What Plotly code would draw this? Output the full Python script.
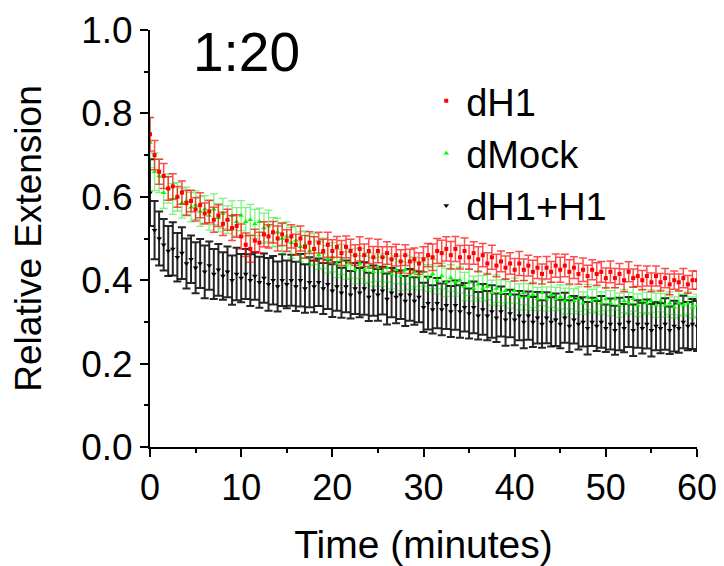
import plotly.graph_objects as go

# Sampling times (minutes), one point every 0.5 min from 0 to 60
TIME_MIN = [i * 0.5 for i in range(121)]

# dH1 (red) mean relative extension, rows of 5 minutes
DH1 = [
    0.75, 0.70, 0.66, 0.65, 0.62, 0.625, 0.60, 0.61, 0.585, 0.59,
    0.57, 0.58, 0.56, 0.565, 0.545, 0.555, 0.535, 0.545, 0.525, 0.53,
    0.505, 0.485, 0.475, 0.495, 0.49, 0.51, 0.505, 0.515, 0.50, 0.51,
    0.495, 0.505, 0.485, 0.50, 0.48, 0.49, 0.475, 0.49, 0.47, 0.485,
    0.47, 0.48, 0.465, 0.48, 0.47, 0.46, 0.475, 0.46, 0.47, 0.455,
    0.47, 0.455, 0.465, 0.45, 0.46, 0.445, 0.46, 0.445, 0.45, 0.44,
    0.45, 0.46, 0.455, 0.47, 0.465, 0.475, 0.46, 0.475, 0.455, 0.47,
    0.455, 0.465, 0.45, 0.46, 0.44, 0.455, 0.435, 0.445, 0.43, 0.44,
    0.425, 0.44, 0.425, 0.435, 0.42, 0.43, 0.415, 0.43, 0.42, 0.435,
    0.425, 0.435, 0.42, 0.43, 0.415, 0.425, 0.41, 0.425, 0.415, 0.42,
    0.405, 0.42, 0.405, 0.415, 0.40, 0.42, 0.405, 0.41, 0.40, 0.41,
    0.395, 0.41, 0.395, 0.405, 0.39, 0.40, 0.395, 0.405, 0.39, 0.40,
    0.40,
]
DH1_ERR = [
    0.040, 0.035, 0.030, 0.030, 0.028, 0.030, 0.025, 0.028, 0.030, 0.026,
    0.028, 0.030, 0.025, 0.027, 0.030, 0.026, 0.028, 0.025, 0.030, 0.027,
    0.030, 0.028, 0.032, 0.027, 0.025, 0.030, 0.028, 0.026, 0.030, 0.027,
    0.026, 0.028, 0.025, 0.030, 0.027, 0.026, 0.029, 0.025, 0.028, 0.030,
    0.027, 0.025, 0.030, 0.026, 0.028, 0.025, 0.029, 0.027, 0.030, 0.026,
    0.028, 0.025, 0.027, 0.030, 0.026, 0.028, 0.025, 0.029, 0.027, 0.026,
    0.030, 0.028, 0.032, 0.030, 0.031, 0.029, 0.033, 0.030, 0.028, 0.031,
    0.029, 0.027, 0.030, 0.028, 0.026, 0.029, 0.027, 0.025, 0.028, 0.026,
    0.027, 0.029, 0.026, 0.025, 0.028, 0.026, 0.024, 0.027, 0.025, 0.028,
    0.030, 0.027, 0.029, 0.026, 0.025, 0.028, 0.026, 0.024, 0.027, 0.025,
    0.024, 0.026, 0.023, 0.025, 0.027, 0.024, 0.022, 0.025, 0.023, 0.024,
    0.022, 0.024, 0.021, 0.023, 0.025, 0.022, 0.020, 0.023, 0.021, 0.022,
    0.022,
]

# dMock (green)
DMOCK = [
    0.73, 0.66, 0.65, 0.61, 0.62, 0.595, 0.60, 0.585, 0.59, 0.575,
    0.58, 0.565, 0.57, 0.555, 0.57, 0.55, 0.56, 0.545, 0.555, 0.54,
    0.555, 0.54, 0.545, 0.535, 0.54, 0.525, 0.53, 0.515, 0.515, 0.50,
    0.505, 0.49, 0.495, 0.48, 0.485, 0.47, 0.475, 0.46, 0.465, 0.45,
    0.455, 0.44, 0.45, 0.435, 0.44, 0.425, 0.44, 0.425, 0.43, 0.42,
    0.43, 0.42, 0.43, 0.415, 0.425, 0.41, 0.425, 0.41, 0.42, 0.41,
    0.42, 0.405, 0.415, 0.40, 0.41, 0.395, 0.405, 0.395, 0.40, 0.385,
    0.395, 0.38, 0.39, 0.38, 0.385, 0.37, 0.38, 0.37, 0.375, 0.365,
    0.375, 0.36, 0.37, 0.36, 0.365, 0.355, 0.37, 0.355, 0.365, 0.355,
    0.36, 0.35, 0.36, 0.35, 0.355, 0.345, 0.36, 0.35, 0.355, 0.345,
    0.355, 0.345, 0.355, 0.34, 0.35, 0.345, 0.355, 0.34, 0.35, 0.345,
    0.35, 0.34, 0.35, 0.34, 0.345, 0.335, 0.345, 0.34, 0.345, 0.335,
    0.34,
]
DMOCK_ERR = [
    0.060, 0.045, 0.040, 0.038, 0.035, 0.037, 0.034, 0.036, 0.033, 0.035,
    0.034, 0.036, 0.033, 0.035, 0.037, 0.034, 0.036, 0.033, 0.035, 0.034,
    0.036, 0.034, 0.037, 0.035, 0.033, 0.036, 0.038, 0.035, 0.034, 0.036,
    0.035, 0.037, 0.034, 0.036, 0.033, 0.035, 0.037, 0.034, 0.036, 0.033,
    0.035, 0.034, 0.036, 0.033, 0.035, 0.034, 0.036, 0.033, 0.035, 0.034,
    0.033, 0.035, 0.034, 0.036, 0.033, 0.035, 0.034, 0.032, 0.035, 0.033,
    0.034, 0.032, 0.035, 0.033, 0.031, 0.034, 0.032, 0.033, 0.031, 0.034,
    0.032, 0.030, 0.033, 0.031, 0.032, 0.030, 0.033, 0.031, 0.029, 0.032,
    0.030, 0.031, 0.029, 0.032, 0.030, 0.028, 0.031, 0.029, 0.030, 0.028,
    0.029, 0.031, 0.028, 0.030, 0.029, 0.027, 0.030, 0.028, 0.029, 0.027,
    0.028, 0.030, 0.027, 0.029, 0.028, 0.026, 0.029, 0.027, 0.028, 0.026,
    0.027, 0.029, 0.026, 0.028, 0.027, 0.025, 0.028, 0.026, 0.027, 0.025,
    0.026,
]

# dH1+H1 (black)
DH1_H1 = [
    0.61, 0.52, 0.50, 0.485, 0.47, 0.475, 0.455, 0.465, 0.44, 0.45,
    0.43, 0.44, 0.42, 0.435, 0.415, 0.425, 0.41, 0.42, 0.40, 0.415,
    0.405, 0.415, 0.40, 0.41, 0.395, 0.405, 0.39, 0.40, 0.385, 0.40,
    0.39, 0.40, 0.385, 0.40, 0.38, 0.395, 0.385, 0.395, 0.38, 0.39,
    0.375, 0.385, 0.37, 0.385, 0.365, 0.38, 0.37, 0.38, 0.36, 0.375,
    0.365, 0.375, 0.355, 0.37, 0.36, 0.365, 0.35, 0.365, 0.35, 0.36,
    0.335, 0.345, 0.33, 0.345, 0.33, 0.34, 0.325, 0.34, 0.325, 0.335,
    0.32, 0.335, 0.315, 0.33, 0.315, 0.325, 0.31, 0.325, 0.305, 0.32,
    0.305, 0.315, 0.30, 0.315, 0.30, 0.31, 0.295, 0.31, 0.30, 0.305,
    0.295, 0.31, 0.29, 0.305, 0.295, 0.30, 0.285, 0.30, 0.29, 0.30,
    0.285, 0.295, 0.28, 0.295, 0.285, 0.30, 0.28, 0.295, 0.285, 0.295,
    0.28, 0.29, 0.285, 0.295, 0.28, 0.29, 0.285, 0.30, 0.29, 0.295,
    0.29,
]
DH1_H1_ERR = [
    0.080, 0.070, 0.065, 0.062, 0.060, 0.064, 0.058, 0.062, 0.060, 0.057,
    0.061, 0.059, 0.063, 0.058, 0.060, 0.062, 0.057, 0.061, 0.059, 0.063,
    0.058, 0.060, 0.062, 0.057, 0.061, 0.059, 0.063, 0.058, 0.060, 0.062,
    0.057, 0.061, 0.059, 0.063, 0.058, 0.060, 0.062, 0.057, 0.061, 0.059,
    0.063, 0.058, 0.060, 0.062, 0.057, 0.061, 0.059, 0.063, 0.058, 0.060,
    0.062, 0.057, 0.061, 0.059, 0.063, 0.058, 0.060, 0.062, 0.057, 0.061,
    0.059, 0.063, 0.058, 0.060, 0.062, 0.057, 0.061, 0.059, 0.063, 0.058,
    0.060, 0.062, 0.057, 0.061, 0.059, 0.063, 0.058, 0.060, 0.062, 0.057,
    0.061, 0.059, 0.063, 0.058, 0.060, 0.062, 0.057, 0.061, 0.059, 0.063,
    0.058, 0.060, 0.062, 0.057, 0.061, 0.059, 0.063, 0.058, 0.060, 0.062,
    0.057, 0.061, 0.059, 0.063, 0.058, 0.060, 0.062, 0.057, 0.061, 0.059,
    0.063, 0.058, 0.060, 0.062, 0.057, 0.061, 0.059, 0.063, 0.058, 0.060,
    0.060,
]

SERIES_NAMES = ["dH1", "dMock", "dH1+H1"]
TITLE_TEXT = "1:20"
X_TITLE = "Time (minutes)"
Y_TITLE = "Relative Extension"

FONT = "Arial, Liberation Sans, Helvetica, sans-serif"

fig = go.Figure()

# drawn bottom to top: black, green, red
fig.add_trace(go.Scatter(
    x=TIME_MIN, y=DH1_H1, name=SERIES_NAMES[2], mode="markers",
    marker=dict(symbol="triangle-down", size=5, color="black"),
    error_y=dict(type="data", array=DH1_H1_ERR, color="rgba(0,0,0,0.85)",
                 thickness=2, width=4),
))
fig.add_trace(go.Scatter(
    x=TIME_MIN, y=DMOCK, name=SERIES_NAMES[1], mode="markers",
    marker=dict(symbol="triangle-up", size=5, color="#00ff00"),
    error_y=dict(type="data", array=DMOCK_ERR, color="rgba(0,230,0,0.5)",
                 thickness=1.3, width=4),
))
fig.add_trace(go.Scatter(
    x=TIME_MIN, y=DH1, name=SERIES_NAMES[0], mode="markers",
    marker=dict(symbol="square", size=4, color="#ff0000"),
    error_y=dict(type="data", array=DH1_ERR, color="rgba(255,0,0,0.7)",
                 thickness=1.5, width=4),
))

fig.add_annotation(
    text=TITLE_TEXT, xref="paper", yref="paper", x=0.176, y=0.947,
    showarrow=False, font=dict(family=FONT, size=55, color="black"),
    xanchor="center", yanchor="middle",
)

# The page body adds an 8 px offset (top/left), so the figure is 8 px smaller
fig.update_layout(
    width=716, height=558,
    margin=dict(l=142, r=27, t=22, b=119),
    paper_bgcolor="white", plot_bgcolor="white",
    font=dict(family=FONT, size=38, color="black"),
    showlegend=True,
    legend=dict(
        x=0.505, y=0.905, xanchor="left", yanchor="top",
        traceorder="reversed", bgcolor="rgba(0,0,0,0)",
        font=dict(family=FONT, size=38, color="black"),
        itemsizing="trace",
    ),
    xaxis=dict(
        range=[0, 60], dtick=10, tick0=0, automargin=False,
        ticklabeloverflow="allow",
        showline=True, linecolor="black", linewidth=2,
        ticks="outside", ticklen=8, tickwidth=2, tickcolor="black",
        minor=dict(dtick=5, ticks="outside", ticklen=4, tickwidth=2, tickcolor="black"),
        showgrid=False, zeroline=False,
        tickfont=dict(size=36),
        title=dict(text=X_TITLE, standoff=24, font=dict(size=39)),
    ),
    yaxis=dict(
        range=[0, 1], dtick=0.2, tick0=0, tickformat=".1f", automargin=False,
        showline=True, linecolor="black", linewidth=2,
        ticks="outside", ticklen=8, tickwidth=2, tickcolor="black",
        minor=dict(dtick=0.1, ticks="outside", ticklen=4, tickwidth=2, tickcolor="black"),
        showgrid=False, zeroline=False,
        tickfont=dict(size=37),
        title=dict(text=Y_TITLE, standoff=30, font=dict(size=37)),
    ),
)

fig.write_html("out.html")
